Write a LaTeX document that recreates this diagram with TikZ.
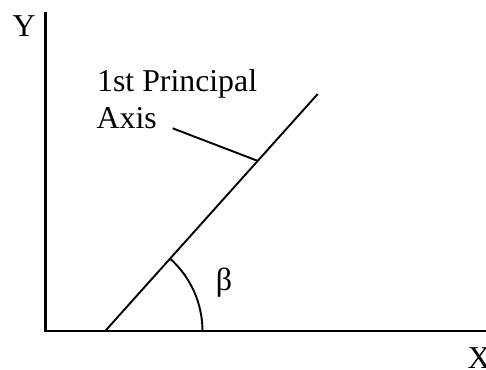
\documentclass[tikz,border=0pt]{standalone}
\usepackage{fontspec}
\setmainfont{Liberation Serif}
\usetikzlibrary{calc}
\begin{document}
\begin{tikzpicture}[x=1pt,y=-1pt,
  axisline/.style={line width=2.3pt},
  thinline/.style={line width=1.9pt},
  lbl/.style={inner sep=0pt,font=\fontsize{31.8}{36}\selectfont}]
\useasboundingbox (0,0) rectangle (486,369);
% axes
\coordinate (O) at (45.5,331.2);
\coordinate (ytop) at (45.5,12);
\coordinate (xend) at (490,331.2);
\draw[axisline] (ytop) -- (O) -- (xend);
\node[lbl,anchor=base west] (Ylab) at (12.5,36.7) {Y};
\node[lbl,anchor=base west] (Xlab) at (467.5,368) {X};
% principal axis
\coordinate (pa0) at (105,331.2);
\coordinate (pa1) at (317.7,94);
\draw[thinline] (pa0) -- (pa1);
% label and leader
\node[lbl,anchor=base west] (lab1) at (97,91.7) {1st Principal};
\node[lbl,anchor=base west] (lab2) at (96.5,128.3) {Axis};
\coordinate (lead0) at (172.7,128.3);
\coordinate (lead1) at ($(pa0)!0.718!(pa1)$);
\draw[thinline] (lead0) -- (lead1);
% angle arc
\coordinate (arc0) at (202.5,331.2);
\draw[thinline] (arc0) arc[start angle=0,end angle=-48.2,radius=97.5];
\node[inner sep=0pt,font=\fontsize{32}{36}\selectfont] (beta) at (224,282.5) {β};
\end{tikzpicture}
\end{document}
